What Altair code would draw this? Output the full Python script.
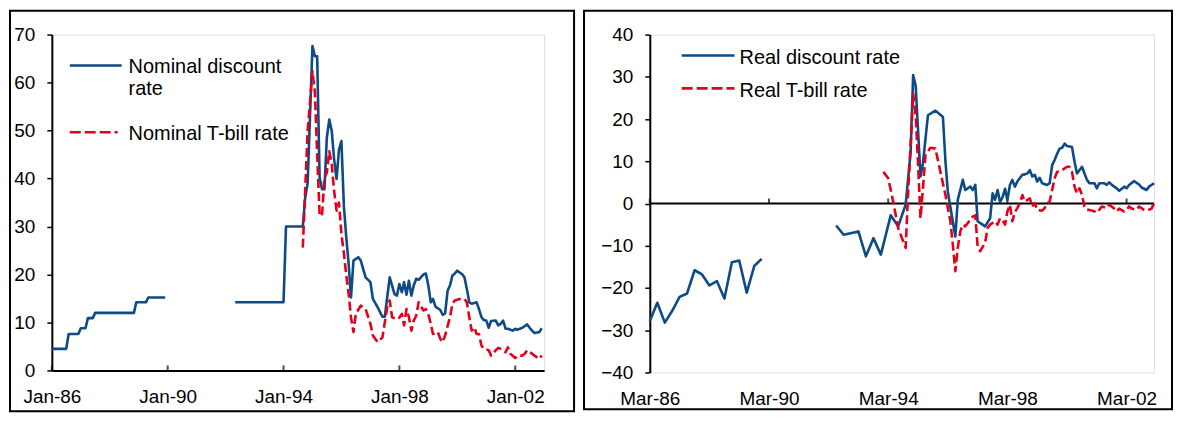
import altair as alt
import pandas as pd

FONT = "Liberation Sans"
BLUE = "#0D4A87"
RED = "#E3001B"
FS = 19
LFS = 20

# ---------------- Left panel: nominal rates (months, values; None = gap) ----------------
nom_disc_months = [
    "1986-01", "1986-07", "1986-08", "1986-12", "1987-01", "1987-03", "1987-04", "1987-06",
    "1987-07", "1988-11", "1988-12", "1989-04", "1989-05", "1989-12", None,
    "1992-05", "1994-01", "1994-02", "1994-09", "1994-10", "1994-11", "1995-01", "1995-02",
    "1995-03", "1995-04", "1995-05", "1995-06", "1995-07", "1995-08", "1995-09", "1995-10",
    "1995-11", "1995-12", "1996-01", "1996-02", "1996-03", "1996-04", "1996-05", "1996-06",
    "1996-08", "1996-09", "1996-11", "1997-01", "1997-02", "1997-04", "1997-06", "1997-07",
    "1997-09", "1997-11", "1997-12", "1998-01", "1998-02", "1998-03", "1998-04", "1998-05",
    "1998-06", "1998-07", "1998-08", "1998-09", "1998-11", "1998-12", "1999-01", "1999-02",
    "1999-03", "1999-04", "1999-06", "1999-07", "1999-08", "1999-09", "1999-10", "1999-11",
    "1999-12", "2000-01", "2000-02", "2000-03", "2000-04", "2000-05", "2000-06", "2000-07",
    "2000-09", "2000-10", "2000-11", "2000-12", "2001-01", "2001-02", "2001-03", "2001-05",
    "2001-06", "2001-07", "2001-08", "2001-09", "2001-10", "2001-12", "2002-01", "2002-02",
    "2002-04", "2002-06", "2002-07", "2002-08", "2002-09", "2002-11", "2002-12",
]
nom_disc_values = [
    4.5, 4.5, 7.6, 7.6, 8.8, 8.8, 10.9, 10.9,
    12.0, 12.0, 14.2, 14.2, 15.2, 15.2, None,
    14.2, 14.2, 30, 30, 36, 39, 67.6, 65.5,
    65.5, 40.2, 37.8, 37.8, 48.5, 52.3, 49.9, 44,
    39.9, 46, 47.8, 34.3, 28, 22.2, 15.2, 22.9,
    23.6, 22.9, 19.4, 18.4, 14.9, 13.2, 11.2, 11.2,
    19.4, 15.9, 15.6, 18, 16.3, 18.4, 15.8, 18.7,
    15.6, 17.7, 19.1, 18.9, 20, 20.2, 17.7, 14.2,
    14.9, 13.3, 12.6, 11.6, 11.9, 16.6, 17.7, 19.8,
    20.2, 20.8, 20.4, 20.1, 19.4, 17, 14.2, 13.9,
    14.2, 12.8, 11.1, 10.5, 10.4, 8.9, 10.3, 10.4,
    9.4, 9.7, 10.4, 8.7, 8.7, 8.3, 8.7, 8.5,
    8.9, 9.6, 8.9, 8.3, 7.8, 8, 8.8,
]
nom_tbill_months = [
    "1994-09", "1994-11", "1995-01", "1995-02", "1995-03", "1995-04", "1995-05", "1995-06",
    "1995-07", "1995-08", "1995-09", "1995-10", "1995-11", "1995-12", "1996-01", "1996-02",
    "1996-03", "1996-04", "1996-05", "1996-06", "1996-07", "1996-09", "1996-11", "1997-01",
    "1997-02", "1997-04", "1997-06", "1997-08", "1997-09", "1997-10", "1997-12", "1998-01",
    "1998-02", "1998-03", "1998-04", "1998-05", "1998-06", "1998-07", "1998-08", "1998-09",
    "1998-11", "1998-12", "1999-01", "1999-02", "1999-03", "1999-05", "1999-06", "1999-07",
    "1999-08", "1999-10", "1999-11", "1999-12", "2000-02", "2000-04", "2000-05", "2000-06",
    "2000-07", "2000-08", "2000-09", "2000-10", "2000-11", "2000-12", "2001-02", "2001-03",
    "2001-05", "2001-06", "2001-07", "2001-09", "2001-10", "2001-11", "2002-01", "2002-02",
    "2002-04", "2002-05", "2002-06", "2002-08", "2002-09", "2002-11", "2002-12",
]
nom_tbill_values = [
    25.6, 49.9, 62.4, 57.9, 45, 32.5, 32.2, 40.2,
    41.2, 45.7, 43, 37.4, 33.3, 35, 28.4, 24.5,
    20, 16, 11, 8, 11.8, 13.5, 12.8, 9.7,
    7.3, 5.9, 6.9, 13.2, 14.6, 11.1, 10.7, 11,
    11.8, 9.4, 12.8, 11.1, 8.3, 10.4, 11.4, 14.2,
    12.5, 12.8, 11.8, 9.7, 7.6, 8, 6.6, 5.9,
    7.3, 11.1, 13.9, 14.6, 14.9, 14.9, 14.2, 11.1,
    8.3, 9, 7.6, 7.6, 5.2, 4.5, 4.2, 3.1,
    4.2, 4.7, 4.5, 3.8, 4.8, 3.5, 2.6, 3.1,
    3.1, 3.5, 4.2, 3.5, 3.1, 2.4, 3.1,
]
left_tick_dates = ["1986-01-01", "1990-01-01", "1994-01-01", "1998-01-01", "2002-01-01"]
left_y_ticks = [0, 10, 20, 30, 40, 50, 60, 70]

# ---------------- Right panel: real rates ----------------
real_disc_months = [
    "1986-03", "1986-06", "1986-09", "1986-12", "1987-03", "1987-06", "1987-09", "1987-12",
    "1988-03", "1988-06", "1988-09", "1988-12", "1989-03", "1989-06", "1989-09", "1989-12", None,
    "1992-06", "1992-09", "1993-03", "1993-06", "1993-09", "1993-12", "1994-04", "1994-07",
    "1994-10", "1994-12", "1995-01", "1995-02", "1995-03", "1995-04", "1995-05", "1995-07",
    "1995-10", "1996-01", "1996-02", "1996-03", "1996-06", "1996-07", "1996-09", "1996-10",
    "1996-12", "1997-01", "1997-02", "1997-03", "1997-05", "1997-06", "1997-08", "1997-09",
    "1997-10", "1997-11", "1997-12", "1998-01", "1998-02", "1998-03", "1998-04", "1998-05",
    "1998-06", "1998-07", "1998-09", "1998-10", "1998-11", "1998-12", "1999-01", "1999-02",
    "1999-03", "1999-04", "1999-05", "1999-07", "1999-08", "1999-09", "1999-10", "1999-11",
    "1999-12", "2000-01", "2000-02", "2000-03", "2000-05", "2000-06", "2000-07", "2000-09",
    "2000-10", "2000-11", "2000-12", "2001-02", "2001-03", "2001-04", "2001-06", "2001-07",
    "2001-08", "2001-09", "2001-11", "2001-12", "2002-02", "2002-03", "2002-04", "2002-06",
    "2002-08", "2002-09", "2002-11", "2002-12", "2003-02",
]
real_disc_values = [
    -27.8, -23.5, -28.2, -25.4, -22.1, -21.3, -15.8, -16.8,
    -19.4, -18.4, -22.5, -13.9, -13.5, -21.1, -14.8, -13.1, None,
    -5.2, -7.4, -6.6, -12.5, -8.2, -12.1, -2.8, -5.4,
    -0.3, 12.2, 30.4, 27.9, 17.7, 6.4, 9.5, 20.9,
    22, 20.5, 9.9, 2.8, -7.8, 0.9, 5.6, 3.2,
    4, 3.2, 4.4, -4.2, -5, -5.4, -3.5, 2.4,
    0.9, 3.2, 0.3, 1.5, 3.5, 0.8, 4.4, 5.6,
    4, 5.2, 6.8, 6.9, 7.1, 7.9, 6.4, 6.8,
    5.2, 6.1, 4.8, 4.4, 4.8, 9.1, 10.3, 11.8,
    13, 13.2, 14.2, 13.6, 13.4, 9.9, 7.1, 8.7,
    7.1, 5.6, 4.8, 4.8, 3.6, 4.8, 4.8, 4.4,
    5, 4.4, 3.6, 3, 4, 3.6, 4.4, 5.3,
    4.5, 3.8, 3.2, 4, 4.8,
]
real_tbill_months = [
    "1994-01", "1994-03", "1994-05", "1994-07", "1994-10", "1994-11", "1994-12", "1995-01",
    "1995-02", "1995-03", "1995-04", "1995-05", "1995-06", "1995-08", "1995-10", "1995-12",
    "1996-02", "1996-04", "1996-05", "1996-06", "1996-07", "1996-08", "1996-09", "1996-10",
    "1997-01", "1997-02", "1997-03", "1997-04", "1997-06", "1997-07", "1997-08", "1997-10",
    "1997-11", "1997-12", "1998-01", "1998-02", "1998-03", "1998-04", "1998-05", "1998-06",
    "1998-07", "1998-08", "1998-09", "1998-10", "1998-12", "1999-01", "1999-02", "1999-03",
    "1999-05", "1999-06", "1999-07", "1999-08", "1999-09", "1999-10", "1999-11", "2000-01",
    "2000-03", "2000-04", "2000-05", "2000-06", "2000-07", "2000-08", "2000-09", "2000-10",
    "2000-11", "2000-12", "2001-02", "2001-03", "2001-04", "2001-05", "2001-07", "2001-08",
    "2001-10", "2001-11", "2001-12", "2002-02", "2002-03", "2002-04", "2002-05", "2002-07",
    "2002-08", "2002-10", "2002-11", "2003-01", "2003-02",
]
real_tbill_values = [
    7.5, 6.0, 0.5, -5.8, -10.5, 3, 13.8, 26,
    20.9, 9.9, -3.5, 3.6, 11.5, 13.2, 13, 7.5,
    2, -4.2, -9.7, -16, -10.5, -6.6, -5, -5.4,
    -3.1, -2.8, -10.1, -11.3, -9.3, -5.8, -5, -4.2,
    -5, -3.5, -4, -5, -1.9, -0.3, -4.2, -2,
    -1.1, 0.1, 2, 0.5, 1.2, -0.7, 0.1, -1.5,
    -1.7, -1.1, 0, 0.5, 3.2, 6, 7.5, 7.9,
    8.7, 8.7, 7.5, 4, 2.4, 3.6, 2, -0.7,
    -1.5, -1.5, -1.9, -1.2, -1.5, -0.7, -1.1, -0.3,
    -1.2, -1.9, -1.2, -1.9, -1.5, -0.7, -1.2, -1.5,
    -0.7, -1.5, -1.7, -1.2, 0.1,
]
right_tick_dates = ["1986-03-01", "1990-03-01", "1994-03-01", "1998-03-01", "2002-03-01"]
right_y_ticks = [-40, -30, -20, -10, 0, 10, 20, 30, 40]


def series(months, values):
    assert len(months) == len(values)
    rows, seg = [], 0
    for m, v in zip(months, values):
        if m is None or v is None:
            seg += 1
            continue
        rows.append({"date": m + "-01", "value": v, "seg": seg})
    return pd.DataFrame(rows)


def dt(s):
    y, m, d = (int(p) for p in s.split("-"))
    return alt.DateTime(year=y, month=m, date=d, utc=True)


def panel(lines, legend, x_domain, tick_dates, y_domain, y_ticks, width, height,
          rect, zero_rule, label_pad):
    xscale = alt.Scale(type="utc", domain=[dt(d) for d in x_domain])
    yscale = alt.Scale(domain=y_domain, nice=False, zero=False)
    xaxis = alt.Axis(values=[dt(d) for d in tick_dates],
                     labelExpr="utcFormat(datum.value, '%b-%y')",
                     title=None, grid=False, ticks=False, domain=not zero_rule,
                     domainColor="black", domainWidth=2, labelFont=FONT, labelFontSize=FS,
                     labelColor="black", labelPadding=label_pad, labelFlush=False,
                     labelOverlap=False, labelBound=False)
    yaxis = alt.Axis(values=y_ticks, title=None, grid=False, domainColor="black",
                     domainWidth=2, tickColor="black", tickWidth=1.5, tickSize=5,
                     labelFont=FONT, labelFontSize=FS, labelColor="black", labelPadding=12)

    def X(f):
        return alt.X(f, type="temporal", scale=xscale, axis=xaxis)

    def Y(f):
        return alt.Y(f, type="quantitative", scale=yscale, axis=yaxis)

    layers = []
    one = alt.Data(values=[{"k": 0}])
    layers.append(alt.Chart(one).mark_rect(filled=False, stroke="black", strokeWidth=2).encode(
        x=alt.value(rect[0]), x2=alt.value(rect[1]), y=alt.value(rect[2]), y2=alt.value(rect[3])))
    if zero_rule:
        layers.append(alt.Chart(pd.DataFrame({"zero": [0]})).mark_rule(
            color="black", strokeWidth=2).encode(y=Y("zero")))
    ticks_df = pd.DataFrame({"date": tick_dates, "zero": 0})
    layers.append(alt.Chart(ticks_df).mark_tick(orient="vertical", color="black", size=5,
                                                thickness=2, yOffset=-2.5).encode(
        x=X("date"), y=Y("zero")))
    for df, color, dash in lines:
        kw = dict(color=color, strokeWidth=2.6, strokeJoin="round")
        if dash:
            kw["strokeDash"] = dash
        layers.append(alt.Chart(df).mark_line(**kw).encode(
            x=X("date"), y=Y("value"), detail="seg:N"))
    for (x1, x2, y, color, dash, texts) in legend:
        kw = dict(color=color, strokeWidth=2.6)
        if dash:
            kw["strokeDash"] = dash
        layers.append(alt.Chart(one).mark_rule(**kw).encode(
            x=alt.value(x1), x2=alt.value(x2), y=alt.value(y), y2=alt.value(y)))
        for (tx, ty, t) in texts:
            layers.append(alt.Chart(one).mark_text(
                align="left", baseline="middle", font=FONT, fontSize=LFS, color="black").encode(
                x=alt.value(tx), y=alt.value(ty), text=alt.value(t)))
    return alt.layer(*layers).properties(width=width, height=height)


left = panel(
    lines=[(series(nom_disc_months, nom_disc_values), BLUE, None),
           (series(nom_tbill_months, nom_tbill_values), RED, [9, 4])],
    legend=[(18, 70, 31, BLUE, None, [(77, 33, "Nominal discount"), (77, 55, "rate")]),
            (18, 66, 98, RED, [11, 4], [(77, 99.5, "Nominal T-bill rate")])],
    x_domain=["1986-01-01", "2003-01-01"], tick_dates=left_tick_dates,
    y_domain=[0, 70], y_ticks=left_y_ticks, width=494, height=337,
    rect=(-42, 524, -24, 378), zero_rule=False, label_pad=17,
)

right = panel(
    lines=[(series(real_disc_months, real_disc_values), BLUE, None),
           (series(real_tbill_months, real_tbill_values), RED, [9, 4])],
    legend=[(32, 85, 21, BLUE, None, [(90, 23.5, "Real discount rate")]),
            (32, 85, 54, RED, [11, 4], [(90, 56.5, "Real T-bill rate")])],
    x_domain=["1986-03-01", "2003-02-01"], tick_dates=right_tick_dates,
    y_domain=[-40, 40], y_ticks=right_y_ticks, width=506, height=339,
    rect=(-66, 524, -24, 376), zero_rule=True, label_pad=17,
)

chart = alt.hconcat(left, right, spacing=6).properties(padding=0).configure_view(
    stroke=None).configure(font=FONT)

chart.save("out.html", embed_options={"renderer": "svg", "actions": False})
